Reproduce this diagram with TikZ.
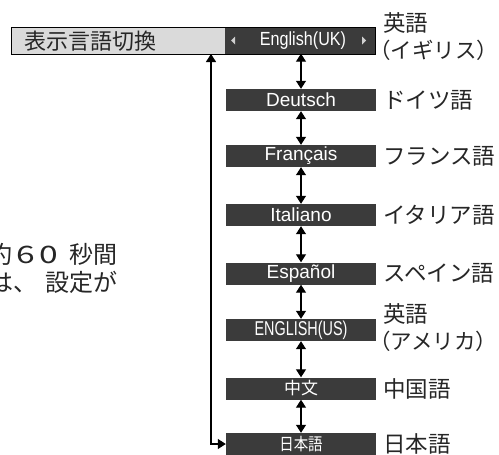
\documentclass[tikz,border=0pt]{standalone}
\usepackage{fontspec}
\setmainfont{Liberation Sans}
\newfontfamily\jp{Noto Sans CJK JP}
\usetikzlibrary{arrows.meta}
\definecolor{boxdark}{HTML}{3B3B3B}
\definecolor{bargray}{HTML}{DADADA}
\definecolor{tri}{HTML}{CFCFCF}
\tikzset{
  dbox/.style={fill=boxdark, text=white, minimum width=150pt, minimum height=22pt, inner sep=0pt, font=\fontsize{19}{19}\selectfont},
  lbl/.style={anchor=west, inner sep=0pt, font=\jp\fontsize{22.5}{22.5}\selectfont, text=black!85},
  plbl/.style={lbl, font=\jp\fontsize{21.5}{21.5}\selectfont},
  dblarrow/.style={{Triangle[length=8pt,width=10pt]}-{Triangle[length=8pt,width=10pt]}, line width=1.2pt},
  sidetext/.style={anchor=east, inner sep=0pt, font=\jp\fontsize{24}{24}\selectfont, text=black!85}
}
\begin{document}
\begin{tikzpicture}[x=1pt,y=-1pt]
\useasboundingbox (0,0) rectangle (499,455);
\clip (0,0) rectangle (499,455);
% top bar
\node[draw=black, line width=1pt, fill=bargray, minimum width=364pt, minimum height=27pt, inner sep=0pt] (bar) at (193,40.5) {};
\node[fill=boxdark, minimum width=150pt, minimum height=26pt, inner sep=0pt] (uk) at (300,40.5) {};
\node[anchor=west, inner sep=0pt, font=\jp\fontsize{22}{22}\selectfont, text=black!85] (title) at (24,41.5) {表示言語切換};
\node[text=white, inner sep=0pt, font=\fontsize{19}{19}\selectfont] (uktext) at (303,40.5) {\scalebox{0.85}[1]{English(UK)}};
\fill[tri] (231,40.5) -- (235,36.5) -- (235,44.5) -- cycle;
\fill[tri] (366,40.5) -- (362,36.5) -- (362,44.5) -- cycle;
% language boxes
\node[dbox] (b1) at (301,100) {Deutsch};
\node[dbox] (b2) at (301,156) {Français};
\node[dbox] (b3) at (301,215) {Italiano};
\node[dbox] (b4) at (301,273.5) {Español};
\node[dbox] (b5) at (301,330) {\fontsize{20}{20}\selectfont\scalebox{0.72}[1]{ENGLISH(US)}};
\node[dbox] (b6) at (301,388.5) {\jp\fontsize{17}{17}\selectfont 中文};
\node[dbox] (b7) at (301,444) {\jp\fontsize{17}{17}\selectfont\scalebox{0.85}[1]{日本語}};
% arrows
\draw[dblarrow] (uk.south -| b1.north) -- (b1.north);
\draw[dblarrow] (b1) -- (b2);
\draw[dblarrow] (b2) -- (b3);
\draw[dblarrow] (b3) -- (b4);
\draw[dblarrow] (b4) -- (b5);
\draw[dblarrow] (b5) -- (b6);
\draw[dblarrow] (b6) -- (b7);
\coordinate (loop) at (211,54);
\draw[dblarrow] (loop) |- (b7.west);
% labels
\node[lbl] (l0a) at (383,23) {英語};
\node[plbl] (l0b) at (369,50) {（イギリス）};
\node[lbl] (l1) at (383,100) {ドイツ語};
\node[lbl] (l2) at (383,156) {フランス語};
\node[lbl] (l3) at (383,215) {イタリア語};
\node[lbl] (l4) at (383,273.5) {スペイン語};
\node[lbl] (l5a) at (383,314) {英語};
\node[plbl] (l5b) at (369,341) {（アメリカ）};
\node[lbl] (l6) at (383,388.5) {中国語};
\node[lbl] (l7) at (383,444) {日本語};
% side text (cut off by the picture edge, as in the reference)
\node[sidetext] (s1) at (118,254) {約\hspace{4pt}\scalebox{1.4}[1]{6\hspace{3pt}0}\hspace{12pt}秒間};
\node[sidetext] (s2) at (118,282) {は、\hspace{8pt}設定が};
\end{tikzpicture}
\end{document}
